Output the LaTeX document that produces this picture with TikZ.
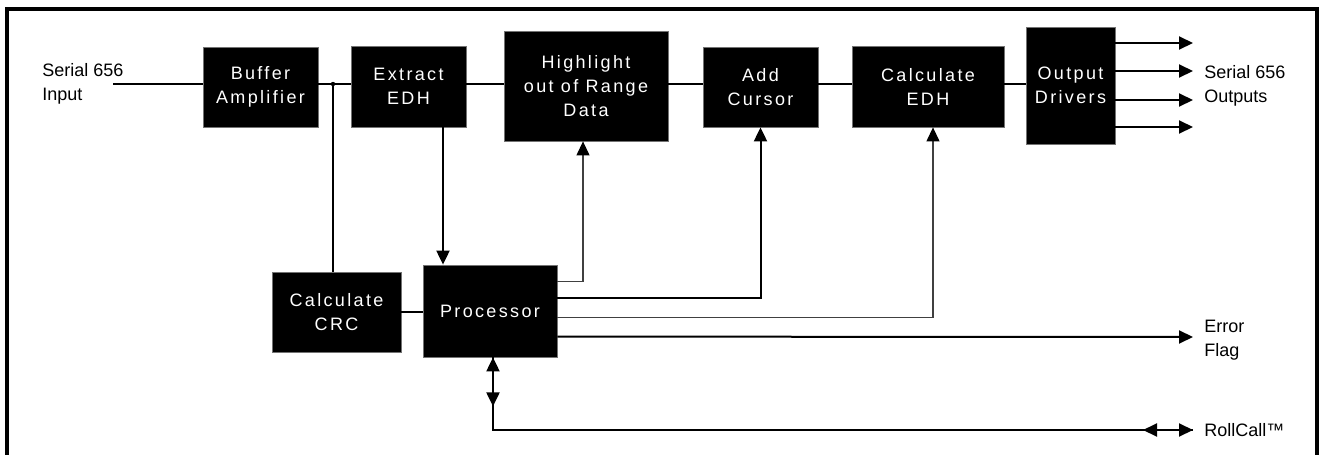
\documentclass[tikz,border=0pt]{standalone}
\usepackage{fontspec}
\usepackage{tikz}
\usetikzlibrary{arrows.meta,positioning,calc}
\setmainfont{Liberation Sans}
\newfontfamily\lblface{Liberation Sans}
\newfontfamily\blkface[LetterSpace=13]{Liberation Sans}
\newcommand\lblfont{\lblface\fontsize{9}{12}\selectfont}
\newcommand\blkfont{\blkface\fontsize{9}{12}\selectfont}

\tikzset{
  blk/.style={fill=black, draw=black!55, line width=0.4pt, text=white,
    font=\blkfont, align=center, inner sep=0pt},
  lbl/.style={font=\lblfont, align=left, anchor=west, inner sep=0pt},
  wire/.style={line width=1pt},
  fwire/.style={line width=0.6pt, black!75},
  arr/.style={-{Triangle[length=7pt,width=6.5pt,color=black]}},
  dblarr/.style={{Triangle[length=7pt,width=6.5pt]}-{Triangle[length=7pt,width=6.5pt]}},
}

\begin{document}
\begin{tikzpicture}[x=0.5pt,y=-0.5pt]
  \useasboundingbox (0,0) rectangle (1324,455);
  % open frame
  \draw[line width=2pt] (7,455) -- (7,9) -- (1317,9) -- (1317,455);

  % blocks: name/x/y/width/height/text
  \foreach \nm/\x/\y/\w/\h/\txt in {
      buf/260.5/87/115/80/{Buffer\\Amplifier},
      ext/408.5/86.5/115/81/{Extract\\EDH},
      hil/586/86/164/110/{Highlight\\out of Range\\Data},
      cur/760.5/87/115/80/{Add\\Cursor},
      cedh/928/86.5/152/81/{Calculate\\EDH},
      drv/1070.5/85.5/89/117/{Output\\Drivers},
      crc/336.5/312/129/80/{Calculate\\CRC},
      proc/490/311/134/92/{Processor}} {
    \node[blk, minimum width=\w*0.5pt, minimum height=\h*0.5pt] (\nm) at (\x,\y) {\txt};
  }

  % labels
  \node[lbl] (inlbl) at (42,84) {Serial 656\\Input};
  \node[lbl] (outlbl) at (1204,85.5) {Serial 656\\Outputs};
  \node[lbl] (errlbl) at (1204,340) {Error\\Flag};
  \node[lbl] (rclbl) at (1204,430) {RollCall™};

  \coordinate (in) at (113,84);
  \coordinate (jn) at (333,84);
  \coordinate (xd) at (443,0);
  \coordinate (xh) at (583,0);
  \coordinate (xe) at (933,0);
  \coordinate (err) at (1193,337);
  \coordinate (bus) at (493,430);
  \coordinate (rcl) at (1143,430);
  \coordinate (rc) at (1193,430);

  % main video path
  \draw[wire] (in) -- (buf.west |- in);
  \draw[wire] (buf.east |- jn) -- (ext.west |- jn);
  \fill (jn) circle (1.1pt);
  \draw[wire] (jn) -- (jn |- crc.north);
  \draw[wire] (ext.east |- jn) -- (hil.west |- jn);
  \draw[wire] (hil.east |- jn) -- (cur.west |- jn);
  \draw[wire] (cur.east |- jn) -- (cedh.west |- jn);
  \draw[wire] (cedh.east |- jn) -- (drv.west |- jn);
  \foreach \yy in {43,71,100,127}
    \draw[wire,arr] (drv.east |- 0,\yy) -- (1193,\yy);

  % processor links
  \draw[wire,arr] (xd |- ext.south) -- (xd |- proc.north);
  \draw[wire] (crc.east) -- (proc.west |- crc.east);
  \draw[fwire,arr] ($(proc.north east)+(0,17)$) -| (xh |- hil.south);
  \draw[wire,arr] ($(proc.north east)+(0,33)$) -| (cur.south);
  \draw[fwire,arr] ($(proc.north east)+(0,53)$) -| (xe |- cedh.south);
  \draw[wire,arr] ($(proc.north east)+(0,72)$) -- (err);

  % RollCall bus
  \draw[wire] (bus |- proc.south) -- (bus) -- (rc);
  \draw[wire,dblarr] (bus |- proc.south) -- ++(0,49);
  \draw[wire,dblarr] (rcl) -- (rc);
\end{tikzpicture}
\end{document}
